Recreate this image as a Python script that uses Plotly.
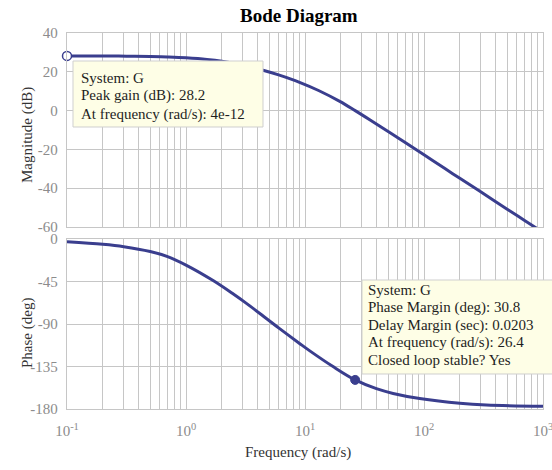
import plotly.graph_objects as go
from plotly.subplots import make_subplots

# ---- data ----
freq_mag = [0.1, 0.2, 0.316, 0.5, 0.7, 1.0, 1.5, 2.0, 3.0, 4.44, 6.0, 9.0, 13.0,
            19.6, 26.4, 35.0, 51.5, 70.0, 100.0, 150.0, 200.0, 293.0, 500.0, 700.0, 1000.0]
mag_db = [28.2, 28.14, 28.04, 27.84, 27.59, 27.19, 26.4, 25.46, 23.44, 20.8, 18.38, 14.6, 10.36,
          4.76, 0.0, -4.7, -11.3, -16.6, -22.8, -29.9, -34.9, -41.5, -50.8, -56.6, -62.8]

freq_ph = [0.1, 0.2, 0.3, 0.5, 0.7, 1.0, 1.69, 2.5, 3.22, 4.5, 6.12, 9.0, 10.9,
           17.2, 26.4, 39.8, 55.0, 92.0, 200.0, 334.0, 1000.0]
phase_deg = [-2.9, -5.6, -8.1, -13.2, -18.6, -27.6, -44.0, -58.3, -68.2, -82.0, -94.9,
             -110.6, -118.2, -135.1, -149.2, -158.5, -163.5, -168.9, -174.0, -175.8, -177.0]

peak_freq, peak_gain = [0.1], [28.2]
pm_freq, pm_phase = [26.4], [-149.2]

mag_ticks = [-60, -40, -20, 0, 20, 40]
mag_ticktext = ["-60", "-40", "-20", "0", "20", "40"]
ph_ticks = [-180, -135, -90, -45, 0]
ph_ticktext = ["-180", "-135", "-90", "-45", "0"]
x_ticks = [0.1, 1, 10, 100, 1000]
x_ticktext = ["10<sup>-1</sup>", "10<sup>0</sup>", "10<sup>1</sup>", "10<sup>2</sup>", "10<sup>3</sup>"]
minor_vals = [m * 10 ** e for e in range(-1, 3) for m in range(2, 10)]

tip1 = ["System: G", "Peak gain (dB): 28.2", "At frequency (rad/s): 4e-12"]
tip2 = ["System: G", "Phase Margin (deg): 30.8", "Delay Margin (sec): 0.0203",
        "At frequency (rad/s): 26.4", "Closed loop stable? Yes"]

# ---- style ----
W, H = 552, 470
L, R, T, B = 67, 9, 33, 61
PW, PH = W - L - R, H - T - B
LINE = "#3a3e8e"
GRID = "#c6c6c6"
TICKC = "#8c8c8c"
SERIF = "Liberation Serif, Times New Roman, serif"


def px_x(px):
    return (px - L) / PW


def px_y(py):
    return (H - B - py) / PH


fig = make_subplots(rows=2, cols=1)

fig.add_trace(go.Scatter(x=freq_mag, y=mag_db, mode="lines",
                         line=dict(color=LINE, width=3, shape="spline", smoothing=1.0),
                         hoverinfo="skip"), row=1, col=1)
fig.add_trace(go.Scatter(x=freq_ph, y=phase_deg, mode="lines",
                         line=dict(color=LINE, width=3, shape="spline", smoothing=1.0),
                         hoverinfo="skip"), row=2, col=1)
fig.add_trace(go.Scatter(x=peak_freq, y=peak_gain, mode="markers", cliponaxis=False,
                         marker=dict(size=9, color="white", line=dict(color=LINE, width=1.5)),
                         hoverinfo="skip"), row=1, col=1)
fig.add_trace(go.Scatter(x=pm_freq, y=pm_phase, mode="markers", cliponaxis=False,
                         marker=dict(size=9, color=LINE, line=dict(color=LINE, width=1)),
                         hoverinfo="skip"), row=2, col=1)

xcommon = dict(type="log", range=[-1, 3], showgrid=True, gridcolor=GRID, gridwidth=1.3,
               showline=True, linecolor=GRID, linewidth=1.3, mirror=True, zeroline=False,
               tickvals=x_ticks, ticktext=x_ticktext, ticks="", automargin=False,
               ticklabeloverflow="allow",
               minor=dict(tickvals=minor_vals, showgrid=True, gridcolor=GRID, gridwidth=1.3, ticks=""),
               tickfont=dict(family=SERIF, size=15, color=TICKC))
ycommon = dict(showgrid=True, gridcolor=GRID, gridwidth=1.3, zeroline=False,
               showline=True, linecolor=GRID, linewidth=1.3, mirror=True, ticks="",
               ticklabelstandoff=5, automargin=False,
               tickfont=dict(family=SERIF, size=15, color=TICKC))
fig.update_layout(
    xaxis=dict(xcommon, domain=[0, 1], showticklabels=False, anchor="y"),
    xaxis2=dict(xcommon, domain=[0, 1], showticklabels=True, anchor="y2", ticklabelstandoff=8),
    yaxis=dict(ycommon, domain=[px_y(227), px_y(33)], range=[-60, 40],
               tickvals=mag_ticks, ticktext=mag_ticktext),
    yaxis2=dict(ycommon, domain=[px_y(409), px_y(239)], range=[-180, 0],
                tickvals=ph_ticks, ticktext=ph_ticktext),
    width=W, height=H, margin=dict(l=L, r=R, t=T, b=B, autoexpand=False),
    paper_bgcolor="white", plot_bgcolor="white", showlegend=False,
    font=dict(family=SERIF),
)

# tooltip boxes
fig.add_shape(type="rect", xref="paper", yref="paper", layer="above",
              x0=px_x(73), x1=px_x(263), y0=px_y(127), y1=px_y(61),
              fillcolor="#fefee6", line=dict(color="#cfcfcf", width=1))
fig.add_shape(type="rect", xref="paper", yref="paper", layer="above",
              x0=px_x(362), x1=px_x(562), y0=px_y(374), y1=px_y(280),
              fillcolor="#fefee6", line=dict(color="#cfcfcf", width=1))

for i, t in enumerate(tip1):
    fig.add_annotation(x=px_x(80), y=px_y(78 + 18 * i), xref="paper", yref="paper",
                       xanchor="left", yanchor="middle", text=t, showarrow=False,
                       borderpad=0, font=dict(family=SERIF, size=15, color="#1e1e1e"))
for i, t in enumerate(tip2):
    fig.add_annotation(x=px_x(367), y=px_y(290 + 17.5 * i), xref="paper", yref="paper",
                       xanchor="left", yanchor="middle", text=t, showarrow=False,
                       borderpad=0, font=dict(family=SERIF, size=15, color="#1e1e1e"))

# titles
fig.add_annotation(x=px_x(299), y=px_y(15), xref="paper", yref="paper", text="<b>Bode Diagram</b>",
                   showarrow=False, xanchor="center", yanchor="middle",
                   font=dict(family=SERIF, size=19, color="black"))
fig.add_annotation(x=px_x(298), y=px_y(452), xref="paper", yref="paper", text="Frequency (rad/s)",
                   showarrow=False, xanchor="center", yanchor="middle",
                   font=dict(family=SERIF, size=15, color="#333333"))
fig.add_annotation(x=px_x(27), y=px_y(135), xref="paper", yref="paper", text="Magnitude (dB)",
                   showarrow=False, textangle=-90, xanchor="center", yanchor="middle",
                   font=dict(family=SERIF, size=15, color="#333333"))
fig.add_annotation(x=px_x(27), y=px_y(333), xref="paper", yref="paper", text="Phase (deg)",
                   showarrow=False, textangle=-90, xanchor="center", yanchor="middle",
                   font=dict(family=SERIF, size=15, color="#333333"))

fig.write_html("out.html", config={"displayModeBar": False})
